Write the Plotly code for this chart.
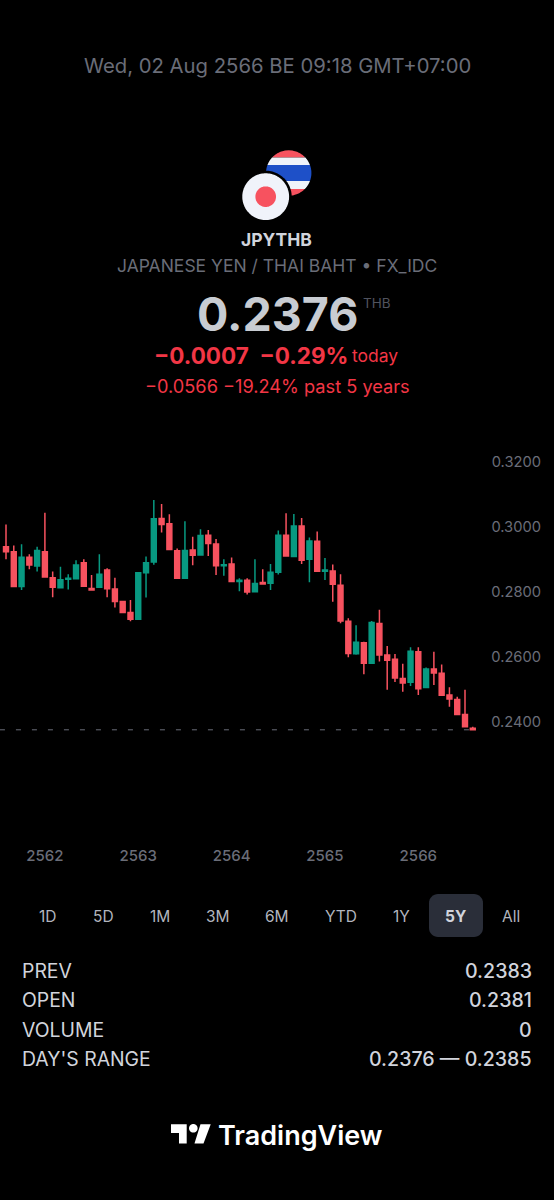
import math
import plotly.graph_objects as go

W, H = 554, 1200
FONT = "Inter"

open_ = [.2939,.2924,.2817,.2907,.2880,.2924,.2844,.2813,.2839,.2841,.2890,.2811,.2815,.2868,.2809,.2771,.2737,
         .2716,.2859,.2892,.3026,.3010,.2927,.2842,.2929,.2914,.2975,.2948,.2881,.2886,.2832,.2836,.2801,.2829,
         .2827,.2861,.2975,.2909,.3003,.2901,.2956,.2864,.2865,.2821,.2710,.2610,.2644,.2581,.2703,.2606,.2593,
         .2534,.2522,.2616,.2506,.2563,.2550,.2483,.2469,.2423,.2381]
close = [.2924,.2817,.2907,.2883,.2928,.2846,.2815,.2838,.2842,.2883,.2818,.2806,.2855,.2810,.2771,.2737,.2716,
         .2859,.2890,.3025,.3008,.2931,.2842,.2928,.2913,.2974,.2949,.2881,.2884,.2832,.2836,.2800,.2826,.2825,
         .2861,.2975,.2911,.3003,.2898,.2957,.2864,.2868,.2824,.2711,.2611,.2645,.2581,.2706,.2606,.2590,.2535,
         .2520,.2618,.2502,.2563,.2551,.2482,.2471,.2423,.2385,.2376]
high = [.3008,.2943,.2947,.2916,.2939,.3044,.2863,.2878,.2855,.2898,.2901,.2852,.2916,.2873,.2844,.2771,.2775,
        .2859,.2909,.3083,.3071,.3039,.2934,.3018,.2970,.2993,.2991,.2963,.2901,.2906,.2842,.2842,.2901,.2870,
        .2886,.2989,.3042,.3040,.3028,.2968,.2986,.2905,.2885,.2855,.2719,.2698,.2647,.2711,.2745,.2634,.2609,
        .2579,.2630,.2630,.2568,.2616,.2577,.2507,.2478,.2499,.2385]
low = [.2901,.2817,.2806,.2870,.2863,.2846,.2784,.2813,.2808,.2841,.2818,.2806,.2815,.2784,.2752,.2737,.2710,
       .2716,.2783,.2884,.2983,.2931,.2842,.2842,.2882,.2914,.2911,.2852,.2850,.2832,.2802,.2792,.2801,.2824,
       .2806,.2854,.2911,.2909,.2886,.2830,.2864,.2837,.2770,.2704,.2599,.2607,.2547,.2581,.2586,.2499,.2523,
       .2493,.2511,.2483,.2506,.2514,.2482,.2447,.2423,.2385,.2376]
year_positions = [5, 17, 29, 41, 53]
year_labels = ["2562", "2563", "2564", "2565", "2566"]
price_ticks = [0.24, 0.26, 0.28, 0.30, 0.32]
price_labels = ["0.2400", "0.2600", "0.2800", "0.3000", "0.3200"]
last_price = 0.2376
ranges = ["1D", "5D", "1M", "3M", "6M", "YTD", "1Y", "5Y", "All"]
range_x = [47.5, 103, 160, 218, 277, 341, 401, 455.5, 511]
stat_names = ["PREV", "OPEN", "VOLUME", "DAY'S RANGE"]
stat_values = ["0.2383", "0.2381", "0", "0.2376 — 0.2385"]
stat_y = [971, 1000, 1030, 1059]

RED, GREEN = "#f7525f", "#089981"
PLOT_TOP, PLOT_BOT = 440, 835


def px(x):
    return x / W


def py(y):
    return 1 - y / H


x_idx = list(range(len(open_)))
fig = go.Figure()
fig.add_trace(go.Scatter(x=[-0.78, x_idx[-1]], y=[last_price, last_price], mode="lines",
                         line=dict(color="#6a6d78", width=1, dash="5px,11px"), hoverinfo="skip"))
fig.add_trace(go.Candlestick(x=x_idx, open=open_, high=high, low=low, close=close,
                             increasing=dict(line=dict(color=GREEN, width=1.5), fillcolor=GREEN),
                             decreasing=dict(line=dict(color=RED, width=1.5), fillcolor=RED),
                             whiskerwidth=0))

shapes = []
anns = []


def text(x, y, s, size, color, anchor="center", weight=400):
    anns.append(dict(x=px(x), y=py(y), xref="paper", yref="paper", text=s, showarrow=False,
                     xanchor=anchor, yanchor="middle", align=anchor,
                     font=dict(family=FONT, size=size, color=color, weight=weight)))


def poly(pts, color, layer="above"):
    d = "M" + "L".join(f"{px(a):.5f},{py(b):.5f}" for a, b in pts) + "Z"
    shapes.append(dict(type="path", path=d, xref="paper", yref="paper",
                       fillcolor=color, line=dict(width=0), layer=layer))


def circle(cx, cy, r, color):
    poly([(cx + r * math.cos(t / 60 * math.pi), cy + r * math.sin(t / 60 * math.pi)) for t in range(120)], color)


def band(cx, cy, r, y0, y1, color):
    y0 = max(y0, cy - r)
    y1 = min(y1, cy + r)
    n = 24
    left, right = [], []
    for i in range(n + 1):
        yy = y0 + (y1 - y0) * i / n
        dx = math.sqrt(max(r * r - (yy - cy) ** 2, 0))
        left.append((cx - dx, yy))
        right.append((cx + dx, yy))
    poly(right + left[::-1], color)


def round_rect(x0, y0, x1, y1, r, color):
    pts = []
    for (cx, cy, a0) in [(x1 - r, y0 + r, -90), (x1 - r, y1 - r, 0), (x0 + r, y1 - r, 90), (x0 + r, y0 + r, 180)]:
        for k in range(9):
            a = math.radians(a0 + k * 90 / 8)
            pts.append((cx + r * math.cos(a), cy + r * math.sin(a)))
    poly(pts, color, layer="below")


# flags
tx, ty, tr = 288.7, 173, 22.7
band(tx, ty, tr, 150, 157.5, "#f7525f")
band(tx, ty, tr, 157.5, 165, "#f0f3fa")
band(tx, ty, tr, 165, 181, "#1e50c8")
band(tx, ty, tr, 181, 189, "#f0f3fa")
band(tx, ty, tr, 189, 197, "#f7525f")
circle(265.7, 196.7, 26, "#000000")
circle(265.7, 196.7, 23.4, "#f0f3fa")
circle(265.7, 196.7, 10.3, "#f7525f")

text(277, 65, "Wed, 02 Aug 2566 BE 09:18 GMT+07:00", 20.3, "#6a6d78")
text(276.5, 239, "JPYTHB", 17.5, "#d1d4dc", weight=700)
text(277, 265, "JAPANESE YEN / THAI BAHT • FX_IDC", 17.5, "#6a6d78")
text(277, 314, "0.2376", 46.5, "#c8ccd2", weight=700)
text(361, 303, "THB", 13.5, "#50535e", anchor="left")
text(152, 355, "−0.0007  −0.29%", 22.5, "#f23645", anchor="left", weight=700)
text(350, 356, "today", 17.5, "#f23645", anchor="left")
text(277, 386, "−0.0566 −19.24% past 5 years", 18.2, "#f23645")

round_rect(429, 894, 483, 937, 9, "#2a2e39")
for lab, xx in zip(ranges, range_x):
    sel = lab == "5Y"
    text(xx, 916, lab, 15.5, "#d1d4dc" if sel else "#b2b5be", weight=700 if sel else 400)
for n, v, yy in zip(stat_names, stat_values, stat_y):
    text(20, yy, n, 19.4, "#d1d4dc", anchor="left")
    text(534, yy, v, 19.6, "#d1d4dc", anchor="right", weight=500)

# TradingView wordmark
poly([(171, 1124.3), (186.7, 1124.3), (186.7, 1143.5), (179, 1143.5), (179, 1133), (171, 1133)], "#ffffff")
circle(193.3, 1128.3, 4.3, "#ffffff")
poly([(200.5, 1124.3), (210.7, 1124.3), (203.5, 1143.5), (194.5, 1143.5)], "#ffffff")
text(216, 1135, "TradingView", 27, "#ffffff", anchor="left", weight=600)

fig.update_layout(
    width=W, height=H, autosize=False, showlegend=False,
    margin=dict(l=0, r=0, t=0, b=0),
    paper_bgcolor="#000000", plot_bgcolor="#000000",
    boxgap=0.1,
    shapes=shapes, annotations=anns,
    xaxis=dict(range=[-0.771, 70.44], rangeslider=dict(visible=False), showgrid=False, zeroline=False,
               showline=False, tickmode="array", tickvals=year_positions, ticktext=year_labels,
               ticks="", tickfont=dict(family=FONT, size=15, color="#6a6d78", weight=500), anchor="y",
               ticklabelstandoff=10),
    yaxis=dict(domain=[py(PLOT_BOT), py(PLOT_TOP)], side="right", ticklabelposition="inside",
               range=[0.24 + (722 - PLOT_BOT) / 3250, 0.24 + (722 - PLOT_TOP) / 3250],
               showgrid=False, zeroline=False, showline=False,
               tickmode="array", tickvals=price_ticks, ticktext=price_labels,
               ticks="", tickfont=dict(family=FONT, size=14.7, color="#6a6d78"), ticklabelstandoff=10),
)
fig.write_html("out.html", config=dict(displayModeBar=False),
               post_script="document.body.style.margin='0';document.body.style.overflow='hidden';")
